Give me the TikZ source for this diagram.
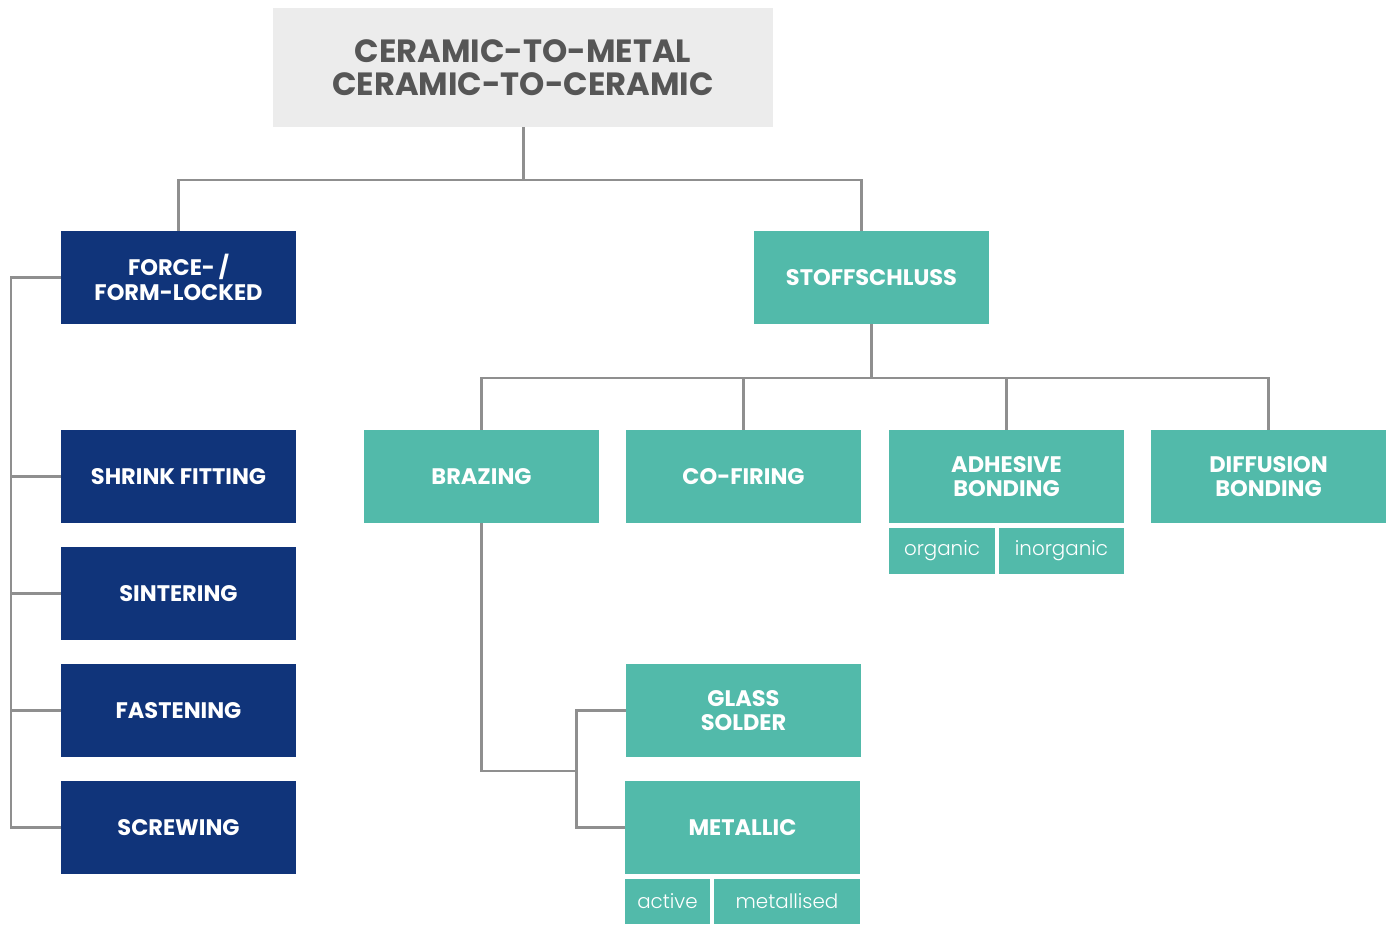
\documentclass[tikz,border=0pt]{standalone}
\usepackage{fontspec}
\setmainfont{Poppins}
\newfontfamily\lightfont{Poppins Light}

\definecolor{navy}{HTML}{10347A}
\definecolor{teal}{HTML}{52BAAA}
\definecolor{linegray}{HTML}{8F8F8F}
\definecolor{titlegray}{HTML}{ECECEC}
\definecolor{titletext}{HTML}{565656}

\begin{document}
\begin{tikzpicture}[x=0.02cm,y=-0.02cm,
    box/.style={minimum width=4.7cm,minimum height=1.86cm,inner sep=0pt,align=center,text=white,
        font=\bfseries\fontsize{12.8}{13.8}\selectfont},
    darkbox/.style={box,fill=navy},
    lightbox/.style={box,fill=teal},
    subbox/.style={fill=teal,text=white,minimum height=0.91cm,inner sep=0pt,
        font=\lightfont\fontsize{11.3}{13}\selectfont},
    link/.style={draw=linegray,line width=1.7pt}]
    % Page
    \useasboundingbox (0,0) rectangle (1392,925);

    % Title
    \node[fill=titlegray,minimum width=10cm,minimum height=2.38cm,align=center,text=titletext,
        font=\bfseries\fontsize{18.3}{18.6}\selectfont] (title) at (523,67.5) {CERAMIC-TO-METAL\\CERAMIC-TO-CERAMIC};

    % Force-/form-locked branch
    \node[darkbox] (force) at (178.5,277.5) {FORCE-\,/\\FORM-LOCKED};
    \node[darkbox] (shrink) at (178.5,476.5) {SHRINK FITTING};
    \node[darkbox] (sintering) at (178.5,593.5) {SINTERING};
    \node[darkbox] (fastening) at (178.5,710.5) {FASTENING};
    \node[darkbox] (screwing) at (178.5,827.5) {SCREWING};

    % Stoffschluss branch
    \node[lightbox] (stoff) at (871.5,277.5) {STOFFSCHLUSS};
    \node[lightbox] (brazing) at (481.5,476.5) {BRAZING};
    \node[lightbox] (cofiring) at (743.5,476.5) {CO-FIRING};
    \node[lightbox] (adhesive) at (1006.5,476.5) {ADHESIVE\\BONDING};
    \node[lightbox] (diffusion) at (1268.5,476.5) {DIFFUSION\\BONDING};
    \node[subbox,minimum width=2.12cm] (organic) at (942,551) {organic};
    \node[subbox,minimum width=2.5cm] (inorganic) at (1061.5,551) {inorganic};

    % Brazing kinds
    \node[lightbox] (glass) at (743.5,710.5) {GLASS\\SOLDER};
    \node[lightbox] (metallic) at (742.5,827.5) {METALLIC};
    \node[subbox,minimum width=1.7cm] (active) at (667.5,901.5) {active};
    \node[subbox,minimum width=2.92cm] (metallised) at (787,901.5) {metallised};

    % Connectors
    \draw[link] (title.south) -- (title.south |- 0,180) coordinate (t1);
    \draw[link] (force.north) |- ([xshift=-0.2cm]stoff.north |- t1) -- ([xshift=-0.2cm]stoff.north);
    \draw[link] (force.west) -| (11,300) coordinate (l1) |- (screwing.west);
    \foreach \n in {shrink,sintering,fastening}
        \draw[link] (l1 |- \n.west) -- (\n.west);
    \draw[link] (stoff.south) -- (stoff.south |- 0,378) coordinate (s1);
    \draw[link] (brazing.north) |- (diffusion.north |- s1) -- (diffusion.north);
    \foreach \n in {cofiring,adhesive}
        \draw[link] (\n.north |- s1) -- (\n.north);
    \draw[link] (brazing.south) |- (576,771) coordinate (b1);
    \draw[link] (glass.west) -| (b1) |- (metallic.west);
\end{tikzpicture}
\end{document}
